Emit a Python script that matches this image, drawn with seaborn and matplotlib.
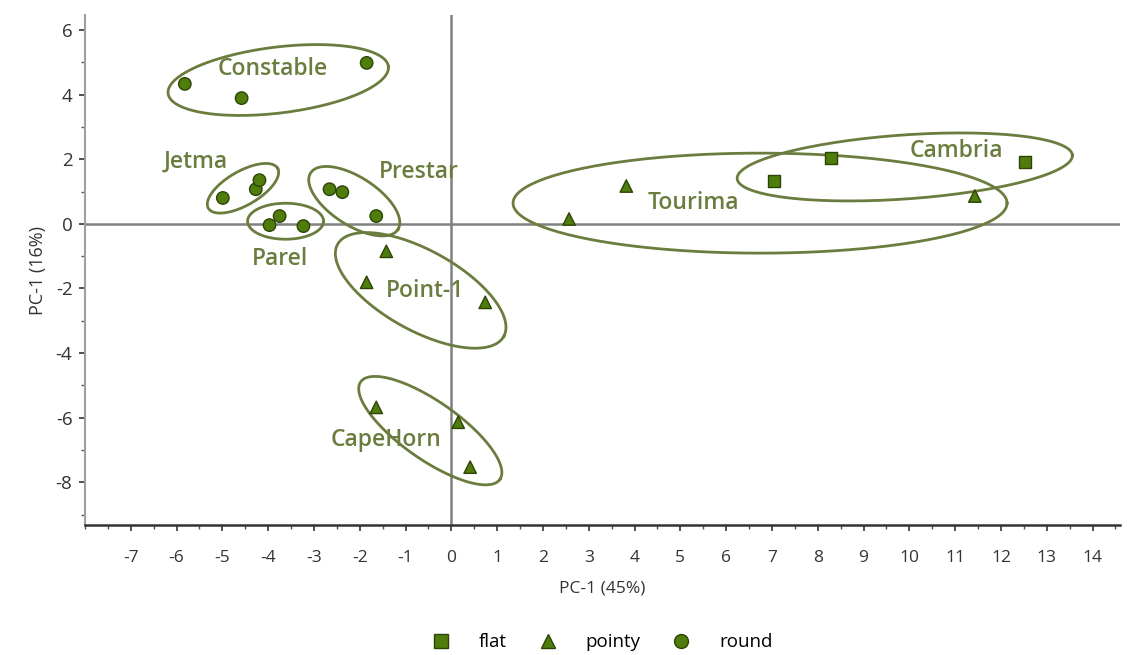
import numpy as np
import pandas as pd
import matplotlib
matplotlib.use("Agg")
import matplotlib.pyplot as plt
from matplotlib.ticker import MultipleLocator
import seaborn as sns

# Scores
variety = (["Constable"] * 3 + ["Jetma"] * 3 + ["Parel"] * 3 + ["Prestar"] * 3
           + ["Point-1"] * 3 + ["CapeHorn"] * 3 + ["Tourima"] * 3 + ["Cambria"] * 3)
shape = (["round"] * 12 + ["pointy"] * 9 + ["flat"] * 3)
pc1 = [-5.82, -4.58, -1.85,
       -4.99, -4.27, -4.19,
       -3.97, -3.75, -3.23,
       -2.66, -2.38, -1.64,
       -1.42, -1.85, 0.74,
       -1.64, 0.15, 0.41,
       2.57, 3.82, 11.43,
       7.04, 8.29, 12.52]
pc2 = [4.33, 3.89, 4.98,
       0.80, 1.07, 1.35,
       -0.04, 0.24, -0.07,
       1.07, 0.98, 0.24,
       -0.85, -1.81, -2.43,
       -5.68, -6.14, -7.53,
       0.15, 1.17, 0.86,
       1.32, 2.03, 1.91]

# group labels and their positions
group_names = ["Constable", "Jetma", "Parel", "Prestar", "Point-1", "CapeHorn", "Tourima", "Cambria"]
label_x = [-3.9, -5.58, -3.75, -0.72, -0.57, -1.42, 5.28, 11.03]
label_y = [4.79, 1.91, -1.10, 1.60, -2.09, -6.70, 0.64, 2.25]

# ellipses: centre (data), semi-axes in pixels, screen angle (deg)
ell_cx = [-3.78, -4.55, -3.62, -2.12, -0.67, -0.46, 6.74, 9.90]
ell_cy = [4.45, 1.10, 0.08, 0.70, -2.06, -6.40, 0.64, 1.76]
ell_a = [111, 40, 38, 52, 95, 85, 247, 168]
ell_b = [33, 17, 18, 24, 40, 29, 50, 32]
ell_ang = [7, 30, 0, -33, -29, -35, 0, 4]

df = pd.DataFrame({"variety": variety, "shape": shape, "pc1": pc1, "pc2": pc2})

plt.rcParams["font.family"] = ["Open Sans", "DejaVu Sans"]
plt.rcParams["axes.unicode_minus"] = False

fig = plt.figure(figsize=(11.27, 6.55), dpi=100)
ax = fig.add_axes([0.0754, 0.198, 0.9184, 0.779])

xmin, xmax, ymin, ymax = -8.0, 14.6, -9.33, 6.46
ax.set_xlim(xmin, xmax)
ax.set_ylim(ymin, ymax)

ax.axhline(0, color="#808080", lw=1.8, zorder=1)
ax.axvline(0, color="#808080", lw=1.8, zorder=1)

green = "#4f7d0c"
edge = "#2c4405"
olive = "#6b7d3e"

markers = {"flat": "s", "pointy": "^", "round": "o"}
sns.scatterplot(data=df, x="pc1", y="pc2", style="shape", markers=markers,
                color=green, edgecolor=edge, linewidth=1.0, s=80,
                ax=ax, legend=False, zorder=3)

# ellipses drawn in pixel space, converted to data units
bbox = ax.get_window_extent()
sx = bbox.width / (xmax - xmin)
sy = bbox.height / (ymax - ymin)
t = np.linspace(0, 2 * np.pi, 200)
for cx, cy, a, b, ang in zip(ell_cx, ell_cy, ell_a, ell_b, ell_ang):
    th = np.radians(ang)
    px = a * np.cos(t) * np.cos(th) - b * np.sin(t) * np.sin(th)
    py = a * np.cos(t) * np.sin(th) + b * np.sin(t) * np.cos(th)
    ax.plot(cx + px / sx, cy + py / sy, color=olive, lw=2.0, zorder=2)

for name, lx, ly in zip(group_names, label_x, label_y):
    ax.text(lx, ly, name, color=olive, fontsize=16.5, fontweight="semibold",
            ha="center", va="center", zorder=4)

ax.xaxis.set_minor_locator(MultipleLocator(0.5))
ax.yaxis.set_major_locator(MultipleLocator(2))
ax.yaxis.set_minor_locator(MultipleLocator(1))
xt = np.arange(-7, 15)
ax.set_xticks(xt)
ax.set_xticklabels([str(v) for v in xt])
ax.tick_params(axis="both", which="major", direction="out", length=4, width=1.2,
               colors="#333333")
ax.tick_params(axis="x", which="major", labelsize=12.5, pad=14)
ax.tick_params(axis="y", which="major", labelsize=13.5, pad=5)
ax.tick_params(axis="both", which="minor", direction="out", length=3, width=1.0, colors="#555555")

for side in ["top", "right"]:
    ax.spines[side].set_visible(False)
ax.spines["left"].set_color("#a0a0a0")
ax.spines["left"].set_linewidth(1.5)
ax.spines["bottom"].set_color("#333333")
ax.spines["bottom"].set_linewidth(1.8)

ax.set_xlabel("PC-1 (45%)", fontsize=12.5, color="#333333", labelpad=10)
ax.set_ylabel("PC-1 (16%)", fontsize=13, color="#333333", labelpad=6)

handles = [plt.Line2D([], [], marker=markers[k], ls="", markersize=10,
                      markerfacecolor=green, markeredgecolor=edge) for k in ["flat", "pointy", "round"]]
fig.legend(handles, ["flat", "pointy", "round"], loc="lower center",
           bbox_to_anchor=(0.53, -0.02), ncol=3, frameon=False, fontsize=13.5,
           handletextpad=1.0, columnspacing=1.2)

fig.savefig("out.png", dpi=100)
